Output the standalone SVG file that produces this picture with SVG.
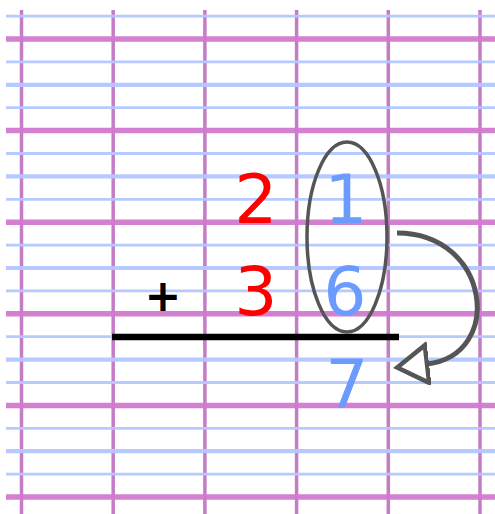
<svg xmlns="http://www.w3.org/2000/svg" width="495" height="514" viewBox="0 0 495 514">
<style>
.v{stroke:#C47CC6;stroke-width:3.5}
.m{stroke:#D27ACE;stroke-width:5.5}
.b{stroke:#B4C8FF;stroke-width:2.8}
.bm{stroke:#B4C8FF;stroke-width:4.2}
.d{font-family:"DejaVu Sans",sans-serif;font-size:68px;text-anchor:middle}
.red{fill:#FF0000}
.blue{fill:#6B9BFF}
</style>
<defs>
<marker id="ah" markerUnits="userSpaceOnUse" markerWidth="44" markerHeight="44" refX="2" refY="21" orient="auto" viewBox="0 0 44 44">
<polygon points="2,2 2,40 32,21" fill="#fff" stroke="#555" stroke-width="4.5" stroke-linejoin="miter"/>
</marker>
</defs>
<rect width="495" height="514" fill="#fff"/>
<g id="grid">
<g id="verticals">
<line class="v" x1="21.5" y1="10" x2="21.5" y2="514"/>
<line class="v" x1="113.2" y1="10" x2="113.2" y2="514"/>
<line class="v" x1="204.9" y1="10" x2="204.9" y2="514"/>
<line class="v" x1="296.6" y1="10" x2="296.6" y2="514"/>
<line class="v" x1="388.3" y1="10" x2="388.3" y2="514"/>
<line class="v" x1="480" y1="10" x2="480" y2="514"/>
</g>
<g id="horizontals" opacity="0.95">
<line class="b" x1="6" y1="16.1" x2="495" y2="16.1"/>
<line class="m" x1="6" y1="39" x2="495" y2="39"/>
<line class="b" x1="6" y1="61.9" x2="495" y2="61.9"/>
<line class="bm" x1="6" y1="84.8" x2="495" y2="84.8"/>
<line class="b" x1="6" y1="107.7" x2="495" y2="107.7"/>
<line class="m" x1="6" y1="130.6" x2="495" y2="130.6"/>
<line class="b" x1="6" y1="153.5" x2="495" y2="153.5"/>
<line class="bm" x1="6" y1="176.4" x2="495" y2="176.4"/>
<line class="b" x1="6" y1="199.3" x2="495" y2="199.3"/>
<line class="m" x1="6" y1="222.2" x2="495" y2="222.2"/>
<line class="b" x1="6" y1="245.1" x2="495" y2="245.1"/>
<line class="bm" x1="6" y1="268" x2="495" y2="268"/>
<line class="b" x1="6" y1="290.9" x2="495" y2="290.9"/>
<line class="m" x1="6" y1="313.8" x2="495" y2="313.8"/>
<line class="b" x1="6" y1="336.7" x2="495" y2="336.7"/>
<line class="bm" x1="6" y1="359.6" x2="495" y2="359.6"/>
<line class="b" x1="6" y1="382.5" x2="495" y2="382.5"/>
<line class="m" x1="6" y1="405.4" x2="495" y2="405.4"/>
<line class="b" x1="6" y1="428.3" x2="495" y2="428.3"/>
<line class="bm" x1="6" y1="451.2" x2="495" y2="451.2"/>
<line class="b" x1="6" y1="474.1" x2="495" y2="474.1"/>
<line class="m" x1="6" y1="497" x2="495" y2="497"/>
</g>
</g>
<g id="digit-2"><text class="d red" x="256" y="223">2</text></g>
<g id="digit-3"><text class="d red" x="256" y="315">3</text></g>
<g id="digit-1"><text class="d blue" x="346" y="223">1</text></g>
<g id="digit-6"><text class="d blue" x="345" y="315">6</text></g>
<g id="digit-7"><text class="d blue" x="347" y="408">7</text></g>
<g id="plus"><text x="163" y="311" font-family="DejaVu Sans,sans-serif" font-size="44" font-weight="bold" text-anchor="middle" fill="#000">+</text></g>
<g id="sum-line"><line x1="112" y1="337" x2="399" y2="337" stroke="#000" stroke-width="6.5"/></g>
<g id="ellipse"><ellipse cx="347" cy="237" rx="40" ry="95" fill="none" stroke="#555" stroke-width="3.5"/></g>
<g id="connectors">
<path d="M397,233 C490,233 505,355 427,364" fill="none" stroke="#555" stroke-width="5" marker-end="url(#ah)"/>
</g>
</svg>
